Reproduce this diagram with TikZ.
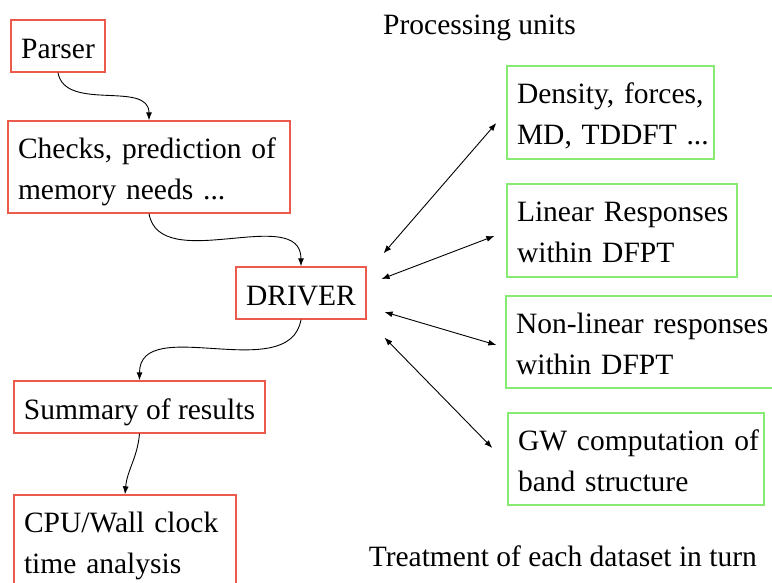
\documentclass[tikz,border=0pt]{standalone}
\usepackage{fontspec}
\setmainfont{Liberation Serif}
\usetikzlibrary{arrows.meta,calc}
\definecolor{boxred}{RGB}{235,90,75}
\definecolor{boxgreen}{RGB}{135,235,115}
\newcommand\mytop{\rule{0pt}{30pt}}
\newcommand\mybot{\rule[-6.5pt]{0pt}{6.5pt}}
\newcommand\myone{\rule[-6.5pt]{0pt}{38.5pt}}
\begin{document}
\begin{tikzpicture}[x=1pt,y=-1pt,
  every node/.style={font=\fontsize{29.5}{41}\selectfont, inner xsep=10pt, inner ysep=0pt},
  redbox/.style={draw=boxred, line width=1.3pt},
  greenbox/.style={draw=boxgreen, line width=1.3pt},
  flow/.style={line width=0.9pt, -{Latex[length=8pt,width=6pt]}},
  both/.style={line width=0.9pt, {Latex[length=8pt,width=6pt]}-{Latex[length=8pt,width=6pt]}}]
\clip (0,0) rectangle (772,583);
\useasboundingbox (0,0) rectangle (772,583);
\fill[white] (0,0) rectangle (772,583);

\node[redbox, minimum width=92pt, minimum height=52pt] (parser) at (58,46) {\myone Parser};
\node[redbox, minimum height=92pt, text width=262pt, align=left] (checks) at (149,167) {\mbox{\mytop Checks, prediction of}\\\mbox{memory needs ...\mybot}};
\node[redbox, minimum width=128pt, minimum height=52pt] (driver) at (301,293) {\myone DRIVER};
\node[redbox, minimum width=251pt, minimum height=52pt] (summary) at (139.5,407) {\myone Summary of results};
\node[redbox, minimum height=92pt, text width=202pt, align=left] (cpu) at (125,541) {\mbox{\mytop CPU/Wall clock}\\\mbox{time analysis\mybot}};

\node[greenbox, minimum height=93pt, text width=187pt, align=left] (dens) at (610.5,112.5) {\mbox{\mytop Density, forces,}\\\mbox{MD, TDDFT ...\mybot}};
\node[greenbox, minimum height=93pt, text width=210pt, align=left] (lin) at (622,230.5) {\mbox{\mytop Linear Responses}\\\mbox{within DFPT\mybot}};
\node[greenbox, minimum height=92pt, text width=249pt, align=left] (nonlin) at (640.5,342) {\mbox{\mytop Non-linear responses}\\\mbox{within DFPT\mybot}};
\node[greenbox, minimum height=92pt, text width=236pt, align=left] (gw) at (636,459) {\mbox{\mytop GW computation of}\\\mbox{band structure\mybot}};

\node[anchor=base west, inner xsep=0pt] (proc) at (383,35) {Processing units};
\node[anchor=base east, inner xsep=0pt] (treat) at (757,566) {Treatment of each dataset in turn};

\draw[flow] (parser.south) to[out=-80,in=90] (checks.north);
\draw[flow] (checks.south) to[out=-80,in=90] (driver.north);
\draw[flow] (driver.south) to[out=-100,in=90] (summary.north);
\draw[flow] (summary.south) to[out=-95,in=85] (cpu.north);

\draw[both] ($(driver.north east)+(17,-13)$) -- ($(dens.west)+(-10,10.5)$);
\draw[both] ($(driver.east)+(15,-14)$) -- ($(lin.west)+(-12,5.5)$);
\draw[both] ($(driver.east)+(18,19)$) -- ($(nonlin.west)+(-9,3)$);
\draw[both] ($(driver.south east)+(18,18)$) -- ($(gw.west)+(-15,-11)$);
\end{tikzpicture}
\end{document}
